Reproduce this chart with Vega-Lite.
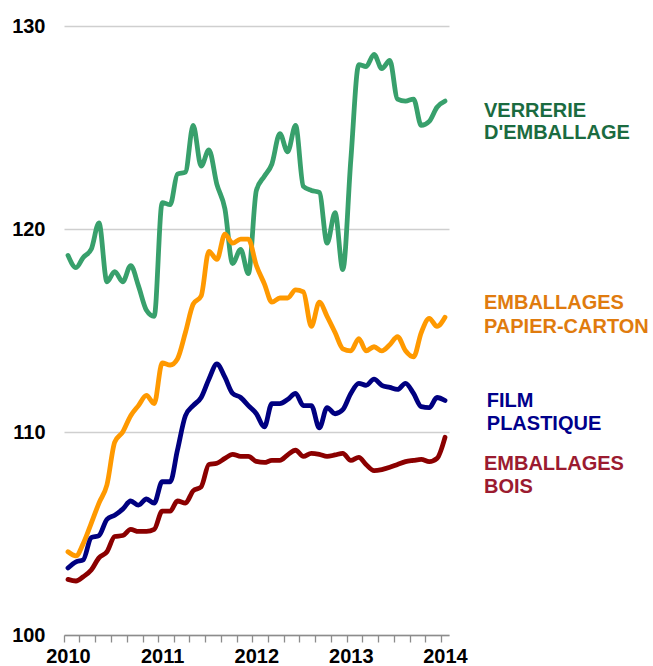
{
  "$schema": "https://vega.github.io/schema/vega-lite/v6.json",
  "width": 385,
  "height": 609,
  "autosize": {"type": "none"},
  "padding": {"left": 64, "top": 26, "right": 204, "bottom": 31},
  "background": "white",
  "config": {"view": {"stroke": null}, "font": "Liberation Sans"},
  "datasets": {
    "series": [
      {"date": "2010-01-01", "verre": 118.7, "papier": 104.1, "film": 103.3, "bois": 102.74},
      {"date": "2010-02-01", "verre": 118.1, "papier": 103.9, "film": 103.6, "bois": 102.66},
      {"date": "2010-03-01", "verre": 118.6, "papier": 104.5, "film": 103.7, "bois": 102.87},
      {"date": "2010-04-01", "verre": 119.0, "papier": 105.5, "film": 104.8, "bois": 103.2},
      {"date": "2010-05-01", "verre": 120.3, "papier": 106.5, "film": 104.9, "bois": 103.8},
      {"date": "2010-06-01", "verre": 117.4, "papier": 107.4, "film": 105.7, "bois": 104.1},
      {"date": "2010-07-01", "verre": 117.9, "papier": 109.5, "film": 105.9, "bois": 104.85},
      {"date": "2010-08-01", "verre": 117.4, "papier": 110.0, "film": 106.2, "bois": 104.9},
      {"date": "2010-09-01", "verre": 118.2, "papier": 110.8, "film": 106.6, "bois": 105.2},
      {"date": "2010-10-01", "verre": 117.2, "papier": 111.3, "film": 106.4, "bois": 105.1},
      {"date": "2010-11-01", "verre": 116.0, "papier": 111.8, "film": 106.7, "bois": 105.1},
      {"date": "2010-12-01", "verre": 115.7, "papier": 111.4, "film": 106.5, "bois": 105.2},
      {"date": "2011-01-01", "verre": 121.3, "papier": 113.4, "film": 107.55, "bois": 106.1},
      {"date": "2011-02-01", "verre": 121.2, "papier": 113.3, "film": 107.55, "bois": 106.1},
      {"date": "2011-03-01", "verre": 122.7, "papier": 113.6, "film": 109.1, "bois": 106.6},
      {"date": "2011-04-01", "verre": 122.8, "papier": 114.9, "film": 110.8, "bois": 106.5},
      {"date": "2011-05-01", "verre": 125.1, "papier": 116.3, "film": 111.3, "bois": 107.1},
      {"date": "2011-06-01", "verre": 123.1, "papier": 116.7, "film": 111.7, "bois": 107.3},
      {"date": "2011-07-01", "verre": 123.9, "papier": 118.9, "film": 112.6, "bois": 108.4},
      {"date": "2011-08-01", "verre": 122.2, "papier": 118.5, "film": 113.35, "bois": 108.46},
      {"date": "2011-09-01", "verre": 121.0, "papier": 119.75, "film": 112.7, "bois": 108.7},
      {"date": "2011-10-01", "verre": 118.3, "papier": 119.3, "film": 111.9, "bois": 108.9},
      {"date": "2011-11-01", "verre": 119.0, "papier": 119.5, "film": 111.7, "bois": 108.8},
      {"date": "2011-12-01", "verre": 117.8, "papier": 119.5, "film": 111.3, "bois": 108.8},
      {"date": "2012-01-01", "verre": 121.9, "papier": 118.2, "film": 110.9, "bois": 108.55},
      {"date": "2012-02-01", "verre": 122.6, "papier": 117.3, "film": 110.25, "bois": 108.5},
      {"date": "2012-03-01", "verre": 123.2, "papier": 116.4, "film": 111.4, "bois": 108.6},
      {"date": "2012-04-01", "verre": 124.7, "papier": 116.6, "film": 111.4, "bois": 108.6},
      {"date": "2012-05-01", "verre": 123.8, "papier": 116.6, "film": 111.6, "bois": 108.87},
      {"date": "2012-06-01", "verre": 125.1, "papier": 117.0, "film": 111.9, "bois": 109.1},
      {"date": "2012-07-01", "verre": 122.1, "papier": 116.9, "film": 111.3, "bois": 108.8},
      {"date": "2012-08-01", "verre": 121.9, "papier": 115.2, "film": 111.3, "bois": 108.95},
      {"date": "2012-09-01", "verre": 121.8, "papier": 116.4, "film": 110.2, "bois": 108.9},
      {"date": "2012-10-01", "verre": 119.3, "papier": 115.7, "film": 111.2, "bois": 108.8},
      {"date": "2012-11-01", "verre": 120.8, "papier": 114.9, "film": 110.9, "bois": 108.87},
      {"date": "2012-12-01", "verre": 118.0, "papier": 114.1, "film": 111.1, "bois": 108.95},
      {"date": "2013-01-01", "verre": 123.4, "papier": 114.0, "film": 111.9, "bois": 108.6},
      {"date": "2013-02-01", "verre": 128.1, "papier": 114.6, "film": 112.4, "bois": 108.75},
      {"date": "2013-03-01", "verre": 128.0, "papier": 114.0, "film": 112.3, "bois": 108.4},
      {"date": "2013-04-01", "verre": 128.6, "papier": 114.2, "film": 112.6, "bois": 108.1},
      {"date": "2013-05-01", "verre": 127.9, "papier": 114.0, "film": 112.3, "bois": 108.15},
      {"date": "2013-06-01", "verre": 128.3, "papier": 114.3, "film": 112.2, "bois": 108.26},
      {"date": "2013-07-01", "verre": 126.4, "papier": 114.7, "film": 112.1, "bois": 108.4},
      {"date": "2013-08-01", "verre": 126.3, "papier": 114.0, "film": 112.4, "bois": 108.54},
      {"date": "2013-09-01", "verre": 126.4, "papier": 113.7, "film": 111.9, "bois": 108.6},
      {"date": "2013-10-01", "verre": 125.1, "papier": 114.9, "film": 111.25, "bois": 108.65},
      {"date": "2013-11-01", "verre": 125.3, "papier": 115.6, "film": 111.2, "bois": 108.54},
      {"date": "2013-12-01", "verre": 126.0, "papier": 115.2, "film": 111.7, "bois": 108.7},
      {"date": "2014-01-01", "verre": 126.3, "papier": 115.65, "film": 111.55, "bois": 109.74}
    ],
    "labels": [
      {"date": "2014-06-01", "valeur": 125.53, "texte": "VERRERIE", "serie": "verre"},
      {"date": "2014-06-01", "valeur": 124.42, "texte": "D'EMBALLAGE", "serie": "verre"},
      {"date": "2014-06-01", "valeur": 116.04, "texte": "EMBALLAGES", "serie": "papier"},
      {"date": "2014-06-01", "valeur": 114.89, "texte": "PAPIER-CARTON", "serie": "papier"},
      {"date": "2014-06-12", "valeur": 111.25, "texte": "FILM", "serie": "film"},
      {"date": "2014-06-12", "valeur": 110.1, "texte": "PLASTIQUE", "serie": "film"},
      {"date": "2014-06-01", "valeur": 108.13, "texte": "EMBALLAGES", "serie": "bois"},
      {"date": "2014-06-01", "valeur": 106.98, "texte": "BOIS", "serie": "bois"}
    ]
  },
  "layer": [
    {
      "data": {"name": "series"},
      "transform": [{"fold": ["verre", "papier", "film", "bois"], "as": ["serie", "valeur"]}],
      "mark": {"type": "line", "strokeWidth": 4.8, "interpolate": "monotone", "strokeCap": "round", "strokeJoin": "round"},
      "encoding": {
        "x": {
          "field": "date",
          "type": "temporal",
          "scale": {"domain": [{"year": 2009, "month": 12, "date": 16, "hours": 12}, {"year": 2014, "month": 1, "date": 16, "hours": 12}]},
          "axis": {
            "title": null,
            "grid": false,
            "tickCount": {"interval": "month", "step": 2},
            "tickOffset": -3.9,
            "labelOffset": 3.9,
            "labelExpr": "month(datum.value) == 0 ? timeFormat(datum.value, '%Y') : ''",
            "labelOverlap": false,
            "labelFlush": false,
            "labelBound": false,
            "domainColor": "#8C8C8C",
            "domainWidth": 1.3,
            "tickColor": "#8C8C8C",
            "tickWidth": 1.3,
            "tickSize": 7,
            "labelPadding": 4,
            "labelFontSize": 20,
            "labelFontWeight": "bold",
            "labelColor": "#000000"
          }
        },
        "y": {
          "field": "valeur",
          "type": "quantitative",
          "scale": {"domain": [100, 130], "nice": false, "zero": false},
          "axis": {
            "title": null,
            "values": [100, 110, 120, 130],
            "grid": true,
            "gridColor": "#CFCFCF",
            "gridWidth": 1.3,
            "domain": false,
            "ticks": false,
            "tickSize": 0,
            "labelPadding": 19,
            "labelFontSize": 20,
            "labelFontWeight": "bold",
            "labelColor": "#000000"
          }
        },
        "color": {
          "field": "serie",
          "type": "nominal",
          "scale": {"domain": ["verre", "papier", "film", "bois"], "range": ["#38A06C", "#FF9900", "#000080", "#8B0000"]},
          "legend": null
        }
      }
    },
    {
      "data": {"name": "labels"},
      "mark": {"type": "text", "align": "left", "baseline": "alphabetic", "fontSize": 20, "fontWeight": "bold"},
      "encoding": {
        "x": {
          "field": "date",
          "type": "temporal",
          "scale": {"domain": [{"year": 2009, "month": 12, "date": 16, "hours": 12}, {"year": 2014, "month": 1, "date": 16, "hours": 12}]}
        },
        "y": {
          "field": "valeur",
          "type": "quantitative",
          "scale": {"domain": [100, 130], "nice": false, "zero": false}
        },
        "text": {"field": "texte", "type": "nominal"},
        "color": {
          "field": "serie",
          "type": "nominal",
          "scale": {"domain": ["verre", "papier", "film", "bois"], "range": ["#1B6B40", "#E07B0E", "#00008B", "#9B1B30"]},
          "legend": null
        }
      }
    }
  ],
  "resolve": {"scale": {"color": "independent"}}
}
